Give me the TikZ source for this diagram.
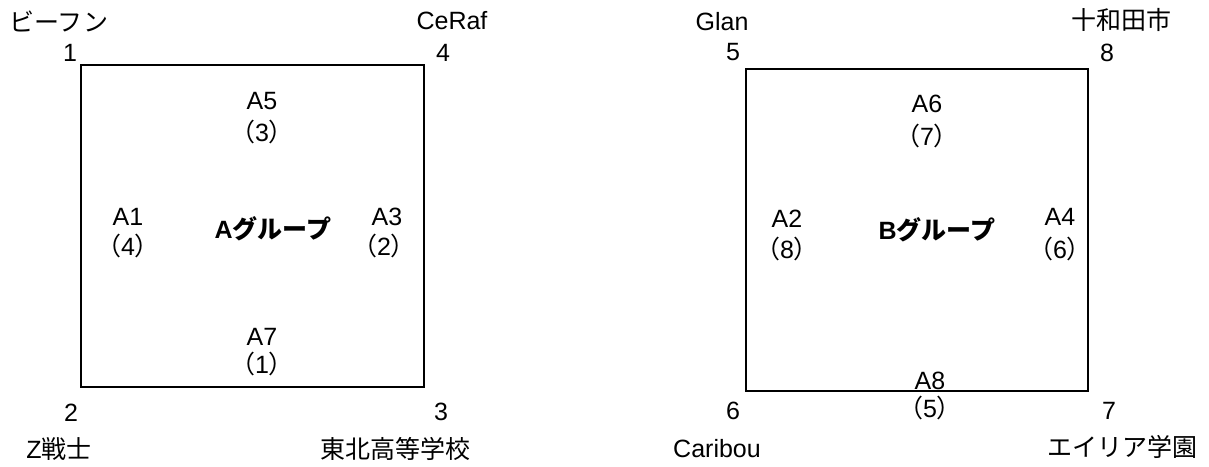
\documentclass[tikz,border=0pt]{standalone}
\usepackage{fontspec}
\setmainfont{Liberation Sans}
\newfontfamily\jp{Noto Sans CJK JP}
\newcommand{\rnk}[1]{{\jp （}#1{\jp ）}}
\tikzset{
  lbl/.style={inner sep=0pt, font=\fontsize{12.5}{14}\selectfont},
  grp/.style={inner sep=0pt, font=\fontsize{12.5}{14}\selectfont\bfseries},
  frame/.style={line width=1pt}
}
\begin{document}
\begin{tikzpicture}[x=0.5pt, y=-0.5pt]
\useasboundingbox (0,0) rectangle (1209,466);

% A group
\draw [frame] (81,65) rectangle (424,387);
\node [lbl] (a1name) at (59,21) {\jp ビーフン};
\node [lbl] (a1num) at (70,53) {1};
\node [lbl] (a4name) at (452,21) {CeRaf};
\node [lbl] (a4num) at (443,53) {4};
\node [lbl] (a2num) at (71,413) {2};
\node [lbl] (a2name) at (59,449) {Z{\jp 戦士}};
\node [lbl] (a3num) at (441,412) {3};
\node [lbl] (a3name) at (395,449) {\jp 東北高等学校};

\node [lbl] (a5) at (262,101) {A5};
\node [lbl] (a5r) at (262,132) {\rnk{3}};
\node [lbl] (a1) at (128,217) {A1};
\node [lbl] (a1r) at (128,246) {\rnk{4}};
\node [grp] (agrp) at (273,229) {A{\jp\bfseries グループ}};
\node [lbl] (a3) at (387,217) {A3};
\node [lbl] (a3r) at (384,246) {\rnk{2}};
\node [lbl] (a7) at (262,337) {A7};
\node [lbl] (a7r) at (262,364) {\rnk{1}};

% B group
\draw [frame] (746,69) rectangle (1088,391);
\node [lbl] (b5name) at (722,22) {Glan};
\node [lbl] (b5num) at (733,52) {5};
\node [lbl] (b8name) at (1121,20) {\jp 十和田市};
\node [lbl] (b8num) at (1107,53) {8};
\node [lbl] (b6num) at (733,411) {6};
\node [lbl] (b6name) at (717,449) {Caribou};
\node [lbl] (b7num) at (1109,411) {7};
\node [lbl] (b7name) at (1122,447) {\jp エイリア学園};

\node [lbl] (a6) at (927,104) {A6};
\node [lbl] (a6r) at (927,136) {\rnk{7}};
\node [lbl] (a2) at (787,219) {A2};
\node [lbl] (a2r) at (787,249) {\rnk{8}};
\node [grp] (bgrp) at (937,230) {B{\jp\bfseries グループ}};
\node [lbl] (a4) at (1060,217) {A4};
\node [lbl] (a4r) at (1060,249) {\rnk{6}};
\node [lbl] (a8) at (930,381) {A8};
\node [lbl] (a8r) at (930,408) {\rnk{5}};

\end{tikzpicture}
\end{document}
